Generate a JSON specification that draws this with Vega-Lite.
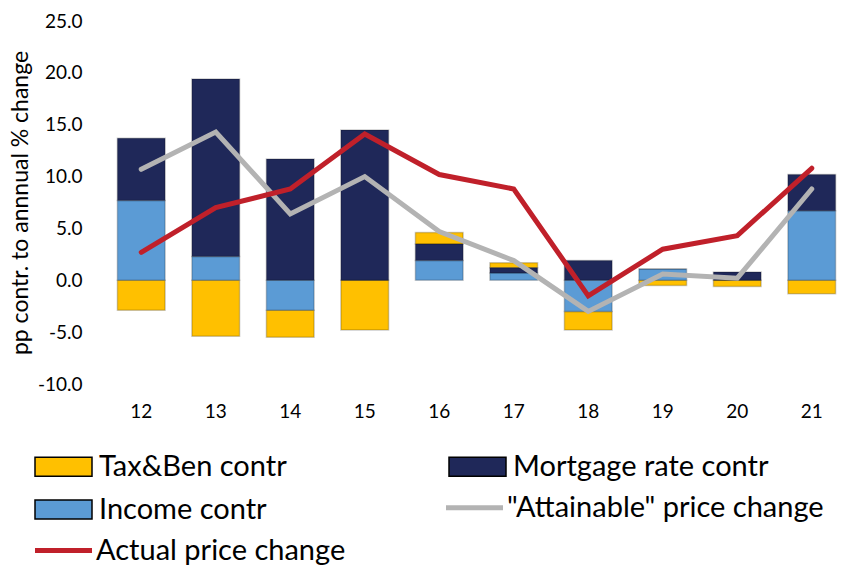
{
  "$schema": "https://vega.github.io/schema/vega-lite/v6.json",
  "width": 745,
  "height": 363,
  "autosize": {"type": "none"},
  "padding": {"left": 104, "top": 21, "right": 0, "bottom": 184},
  "config": {"view": {"stroke": null}, "font": "Lato"},
  "datasets": {
    "bars": [
      {"year": "12", "series": "Tax&Ben contr", "value": -2.9},
      {"year": "12", "series": "Income contr", "value": 7.7},
      {"year": "12", "series": "Mortgage rate contr", "value": 6.0},
      {"year": "13", "series": "Tax&Ben contr", "value": -5.4},
      {"year": "13", "series": "Income contr", "value": 2.3},
      {"year": "13", "series": "Mortgage rate contr", "value": 17.1},
      {"year": "14", "series": "Tax&Ben contr", "value": -2.6},
      {"year": "14", "series": "Income contr", "value": -2.9},
      {"year": "14", "series": "Mortgage rate contr", "value": 11.7},
      {"year": "15", "series": "Tax&Ben contr", "value": -4.8},
      {"year": "15", "series": "Income contr", "value": 0.0},
      {"year": "15", "series": "Mortgage rate contr", "value": 14.5},
      {"year": "16", "series": "Tax&Ben contr", "value": 1.1},
      {"year": "16", "series": "Income contr", "value": 1.9},
      {"year": "16", "series": "Mortgage rate contr", "value": 1.6},
      {"year": "17", "series": "Tax&Ben contr", "value": 0.5},
      {"year": "17", "series": "Income contr", "value": 0.7},
      {"year": "17", "series": "Mortgage rate contr", "value": 0.5},
      {"year": "18", "series": "Tax&Ben contr", "value": -1.8},
      {"year": "18", "series": "Income contr", "value": -3.0},
      {"year": "18", "series": "Mortgage rate contr", "value": 1.9},
      {"year": "19", "series": "Tax&Ben contr", "value": -0.5},
      {"year": "19", "series": "Income contr", "value": 1.1},
      {"year": "19", "series": "Mortgage rate contr", "value": 0.0},
      {"year": "20", "series": "Tax&Ben contr", "value": -0.6},
      {"year": "20", "series": "Income contr", "value": 0.0},
      {"year": "20", "series": "Mortgage rate contr", "value": 0.8},
      {"year": "21", "series": "Tax&Ben contr", "value": -1.3},
      {"year": "21", "series": "Income contr", "value": 6.7},
      {"year": "21", "series": "Mortgage rate contr", "value": 3.5}
    ],
    "lines": [
      {"year": "12", "series": "\"Attainable\" price change", "value": 10.7},
      {"year": "13", "series": "\"Attainable\" price change", "value": 14.3},
      {"year": "14", "series": "\"Attainable\" price change", "value": 6.4},
      {"year": "15", "series": "\"Attainable\" price change", "value": 10.0},
      {"year": "16", "series": "\"Attainable\" price change", "value": 4.7},
      {"year": "17", "series": "\"Attainable\" price change", "value": 1.9},
      {"year": "18", "series": "\"Attainable\" price change", "value": -3.0},
      {"year": "19", "series": "\"Attainable\" price change", "value": 0.6},
      {"year": "20", "series": "\"Attainable\" price change", "value": 0.2},
      {"year": "21", "series": "\"Attainable\" price change", "value": 8.8},
      {"year": "12", "series": "Actual price change", "value": 2.7},
      {"year": "13", "series": "Actual price change", "value": 7.0},
      {"year": "14", "series": "Actual price change", "value": 8.8},
      {"year": "15", "series": "Actual price change", "value": 14.1},
      {"year": "16", "series": "Actual price change", "value": 10.2},
      {"year": "17", "series": "Actual price change", "value": 8.8},
      {"year": "18", "series": "Actual price change", "value": -1.5},
      {"year": "19", "series": "Actual price change", "value": 3.0},
      {"year": "20", "series": "Actual price change", "value": 4.3},
      {"year": "21", "series": "Actual price change", "value": 10.8}
    ]
  },
  "encoding": {
    "x": {
      "field": "year", "type": "ordinal",
      "scale": {"paddingInner": 0.36, "paddingOuter": 0.18},
      "axis": {"title": null, "domain": false, "ticks": false, "labelAngle": 0, "labelFontSize": 19, "labelColor": "#000000", "labelPadding": 18}
    },
    "y": {
      "field": "value", "type": "quantitative",
      "scale": {"domain": [-10, 25], "nice": false, "zero": false},
      "axis": {
        "title": "pp contr. to annnual % change", "titleFontSize": 23, "titleFontWeight": "normal", "titleColor": "#000000", "titlePadding": 5,
        "values": [-10, -5, 0, 5, 10, 15, 20, 25],
        "labelExpr": "(datum.value < 0 ? '-' : '') + format(abs(datum.value), '.1f')",
        "domain": false, "ticks": false, "grid": false, "labelFontSize": 19, "labelColor": "#000000", "labelPadding": 22
      }
    }
  },
  "layer": [
    {
      "data": {"name": "bars"},
      "mark": {"type": "bar", "strokeWidth": 1.5, "stroke": "#000000", "strokeOpacity": 0.2, "opacity": 1},
      "encoding": {
        "color": {
          "field": "series", "type": "nominal",
          "scale": {
            "domain": ["Tax&Ben contr", "Mortgage rate contr", "Income contr"],
            "range": ["#FFC000", "#1F2859", "#5B9BD5"]
          },
          "legend": {
            "orient": "none", "legendX": -74, "legendY": 431, "columns": 2, "direction": "horizontal", "title": null,
            "labelFontSize": 29, "labelColor": "#000000", "labelOffset": 40, "labelLimit": 500,
            "symbolSize": 361, "symbolType": "M-1,-1H5V1H-1Z", "symbolStrokeWidth": 1.5,
            "columnPadding": 157, "rowPadding": 13
          }
        },
        "order": {"field": "series", "sort": "ascending"}
      }
    },
    {
      "mark": {"type": "rule", "color": "#7F7F7F", "strokeWidth": 2},
      "encoding": {"y": {"datum": 0}, "x": null}
    },
    {
      "data": {"name": "lines"},
      "mark": {"type": "line", "strokeWidth": 5, "strokeCap": "round", "strokeJoin": "miter"},
      "encoding": {
        "stroke": {
          "field": "series", "type": "nominal",
          "scale": {
            "domain": [" ", "\"Attainable\" price change", "Actual price change"],
            "range": ["transparent", "#B3B3B3", "#C0202A"]
          },
          "legend": {
            "orient": "none", "legendX": -74, "legendY": 472, "columns": 2, "direction": "horizontal", "title": null,
            "labelFontSize": 29, "labelColor": "#000000", "labelOffset": 37, "labelLimit": 500,
            "symbolSize": 361, "symbolType": "M-1,0H5", "symbolStrokeWidth": 5,
            "columnPadding": 90, "rowPadding": 13
          }
        }
      }
    }
  ]
}
